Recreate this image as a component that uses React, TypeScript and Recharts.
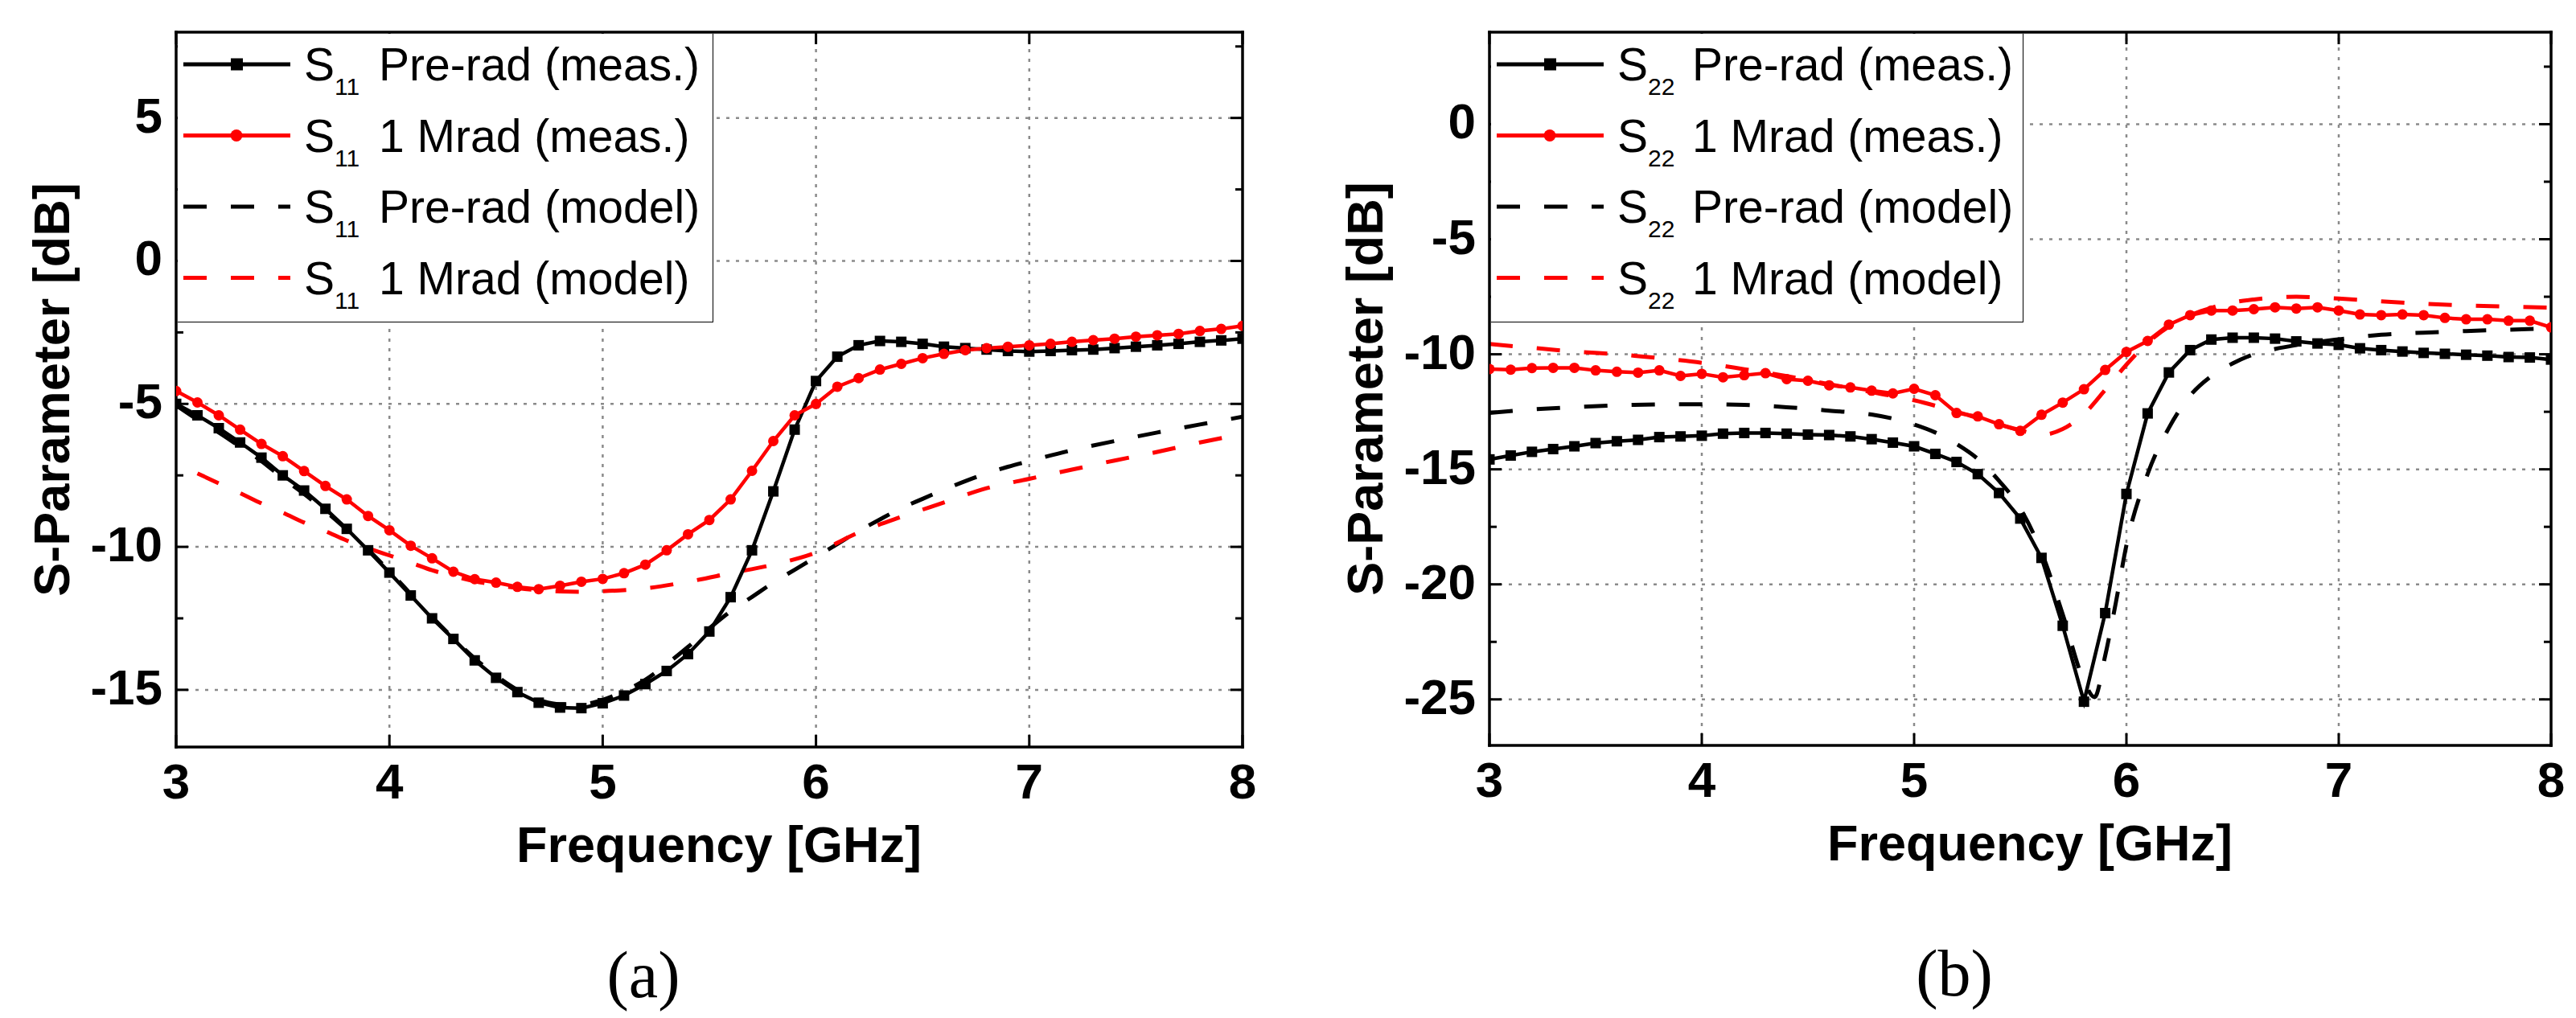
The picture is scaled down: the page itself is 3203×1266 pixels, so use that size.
import React from 'react';
import { LineChart, Line, XAxis, YAxis, ReferenceLine, Legend } from 'recharts';

// ---- data ----
const FREQ = [
  3.0, 3.1, 3.2, 3.3, 3.4, 3.5, 3.6, 3.7, 3.8, 3.9,
  4.0, 4.1, 4.2, 4.3, 4.4, 4.5, 4.6, 4.7, 4.8, 4.9,
  5.0, 5.1, 5.2, 5.3, 5.4, 5.5, 5.6, 5.7, 5.8, 5.9,
  6.0, 6.1, 6.2, 6.3, 6.4, 6.5, 6.6, 6.7, 6.8, 6.9,
  7.0, 7.1, 7.2, 7.3, 7.4, 7.5, 7.6, 7.7, 7.8, 7.9, 8.0,
];

// (a) S11
const S11_PRE_MEAS = [
  -5.0, -5.4, -5.85, -6.35, -6.88, -7.5, -8.03, -8.67, -9.37, -10.12,
  -10.9, -11.7, -12.5, -13.22, -13.97, -14.58, -15.08, -15.45, -15.62, -15.64,
  -15.47, -15.2, -14.8, -14.34, -13.75, -12.96, -11.76, -10.12, -8.06, -5.9,
  -4.2, -3.35, -2.95, -2.8, -2.83, -2.9, -3.0, -3.05, -3.1, -3.15,
  -3.17, -3.15, -3.12, -3.1, -3.05, -3.0, -2.95, -2.9, -2.83, -2.78, -2.72,
];
const S11_RAD_MEAS = [
  -4.55, -4.95, -5.4, -5.9, -6.4, -6.83, -7.35, -7.87, -8.34, -8.92,
  -9.42, -9.96, -10.4, -10.87, -11.13, -11.25, -11.4, -11.48, -11.36, -11.22,
  -11.12, -10.92, -10.62, -10.12, -9.56, -9.06, -8.34, -7.34, -6.3, -5.4,
  -5.0, -4.4, -4.1, -3.8, -3.6, -3.4, -3.25, -3.12, -3.05, -3.0,
  -2.95, -2.9, -2.83, -2.77, -2.72, -2.65, -2.6, -2.55, -2.45, -2.38, -2.27,
];
const S11_PRE_MODEL_F = [
  3.0, 3.1, 3.2, 3.3, 3.4, 3.5, 3.6, 3.7, 3.8, 3.9,
  4.0, 4.1, 4.2, 4.3, 4.4, 4.5, 4.6, 4.7, 4.8, 4.9,
  5.0, 5.1, 5.2, 5.3, 5.4, 5.5, 5.6, 5.7, 5.8, 5.9,
  6.0, 6.1, 6.2, 6.3, 6.4, 6.5, 6.6, 6.7, 6.8, 6.9,
  7.0, 7.2, 7.4, 7.6, 7.8, 8.0,
];
const S11_PRE_MODEL = [
  -5.05, -5.55, -6.0, -6.5, -7.0, -7.6, -8.15, -8.75, -9.4, -10.1,
  -10.85, -11.65, -12.45, -13.2, -13.9, -14.5, -15.0, -15.35, -15.5, -15.5,
  -15.35, -15.05, -14.65, -14.1, -13.5, -12.85, -12.25, -11.75, -11.25, -10.8,
  -10.35, -9.9, -9.45, -9.04, -8.65, -8.32, -8.0, -7.7, -7.43, -7.2,
  -7.0, -6.62, -6.3, -6.0, -5.72, -5.45,
];
const S11_RAD_MODEL_F = [
  3.1, 3.2, 3.3, 3.4, 3.5, 3.6, 3.7, 3.8, 3.9, 4.0,
  4.1, 4.2, 4.3, 4.4, 4.5, 4.6, 4.7, 4.8, 4.9, 5.0,
  5.2, 5.4, 5.6, 5.8, 6.0, 6.2, 6.4, 6.6, 6.8, 7.0,
  7.2, 7.4, 7.6, 7.8, 8.0,
];
const S11_RAD_MODEL = [
  -7.43, -7.78, -8.12, -8.48, -8.8, -9.15, -9.45, -9.78, -10.05, -10.3,
  -10.55, -10.82, -11.02, -11.2, -11.33, -11.44, -11.52, -11.56, -11.57, -11.55,
  -11.45, -11.22, -10.92, -10.62, -10.2, -9.5, -8.95, -8.45, -7.95, -7.62,
  -7.3, -6.98, -6.68, -6.35, -6.05,
];

// (b) S22
const S22_PRE_MEAS = [
  -14.57, -14.4, -14.24, -14.12, -14.0, -13.86, -13.78, -13.72, -13.6, -13.57,
  -13.54, -13.45, -13.42, -13.42, -13.45, -13.49, -13.51, -13.57, -13.69, -13.84,
  -14.0, -14.33, -14.68, -15.21, -16.03, -17.14, -18.85, -21.8, -25.1, -21.25,
  -16.07, -12.57, -10.79, -9.82, -9.36, -9.28, -9.28, -9.32, -9.44, -9.53,
  -9.59, -9.74, -9.82, -9.88, -9.94, -9.98, -10.02, -10.06, -10.12, -10.14, -10.23,
];
const S22_RAD_MEAS = [
  -10.64, -10.67, -10.6, -10.59, -10.59, -10.7, -10.76, -10.8, -10.7, -10.94,
  -10.85, -11.0, -10.91, -10.82, -11.08, -11.15, -11.35, -11.44, -11.58, -11.7,
  -11.5, -11.78, -12.55, -12.7, -13.04, -13.33, -12.63, -12.1, -11.52, -10.68,
  -9.9, -9.42, -8.71, -8.3, -8.1, -8.1, -8.04, -7.96, -8.01, -7.96,
  -8.1, -8.27, -8.3, -8.27, -8.3, -8.42, -8.48, -8.48, -8.54, -8.54, -8.83,
];
const S22_PRE_MODEL_F = [
  3.0, 3.2, 3.4, 3.6, 3.8, 4.0, 4.2, 4.4, 4.6, 4.8,
  5.0, 5.1, 5.2, 5.3, 5.4, 5.5, 5.6, 5.7, 5.8, 5.85,
  5.9, 5.95, 6.0, 6.1, 6.2, 6.3, 6.4, 6.5, 6.6, 6.7,
  6.8, 7.0, 7.2, 7.4, 7.6, 7.8, 8.0,
];
const S22_PRE_MODEL = [
  -12.55, -12.4, -12.3, -12.22, -12.18, -12.17, -12.2, -12.3, -12.45, -12.62,
  -13.05, -13.4, -13.9, -14.55, -15.5, -16.7, -18.6, -21.3, -24.2, -24.9,
  -23.1, -20.8, -18.3, -15.2, -13.2, -11.8, -10.95, -10.4, -10.0, -9.77,
  -9.6, -9.35, -9.15, -9.06, -8.99, -8.93, -8.87,
];
const S22_RAD_MODEL_F = [
  3.0, 3.2, 3.4, 3.6, 3.8, 4.0, 4.2, 4.4, 4.6, 4.8,
  5.0, 5.2, 5.4, 5.5, 5.6, 5.7, 5.8, 5.9, 6.0, 6.1,
  6.2, 6.3, 6.4, 6.5, 6.6, 6.8, 7.0, 7.2, 7.4, 7.6,
  7.8, 8.0,
];
const S22_RAD_MODEL = [
  -9.55, -9.72, -9.88, -10.0, -10.17, -10.37, -10.65, -10.95, -11.3, -11.65,
  -12.0, -12.5, -13.05, -13.3, -13.5, -13.25, -12.6, -11.55, -10.45, -9.5,
  -8.8, -8.3, -7.98, -7.75, -7.62, -7.5, -7.58, -7.7, -7.8, -7.88,
  -7.93, -7.97,
];

const X_TICKS = [3, 4, 5, 6, 7, 8];
const X_GRID = [4, 5, 6, 7];
const A_Y_MAJOR = [-15, -10, -5, 0, 5];
const A_Y_MINOR = [-12.5, -7.5, -2.5, 2.5, 7.5];
const B_Y_MAJOR = [-25, -20, -15, -10, -5, 0];
const B_Y_MINOR = [-22.5, -17.5, -12.5, -7.5, -2.5, 2.5];

const SERIES_TEXT = ['Pre-rad (meas.)', '1 Mrad (meas.)', 'Pre-rad (model)', '1 Mrad (model)'];

// ---- styling ----
const SANS = '"Liberation Sans", Arial, sans-serif';
const SERIF = '"Liberation Serif", "Times New Roman", serif';
const RED = '#ff0000';
const GRID = '#8a8a8a';
const MAJOR_LEN = 15;
const MINOR_LEN = 9;
const H = 1266;
const YW = 150;
const XH = 150;
const DASH = '29 30';

const zip = (f: number[], v: number[]) => f.map((x, i) => ({ f: x, v: v[i] }));

const squareDot = (p: any) => (
  <rect key={`sq-${p.index}`} x={p.cx - 6.5} y={p.cy - 6.5} width={13} height={13} fill="#000" />
);
const circleDot = (p: any) => (
  <circle key={`ci-${p.index}`} cx={p.cx} cy={p.cy} r={6.5} fill={RED} />
);

const isMajor = (v: number) => Math.abs(v % 5) < 1e-9;

const BottomTick = (p: any) => {
  const { x, y, payload } = p;
  return (
    <g>
      <line x1={x} y1={y} x2={x} y2={y - MAJOR_LEN} stroke="#000" strokeWidth={3} />
      <text x={x} y={y + 64} textAnchor="middle" fontFamily={SANS} fontWeight="bold" fontSize={62} fill="#000">
        {payload.value}
      </text>
    </g>
  );
};

const TopTick = (p: any) => {
  const { x, y } = p;
  return <line x1={x} y1={y} x2={x} y2={y + MAJOR_LEN} stroke="#000" strokeWidth={3} />;
};

const LeftTick = (p: any) => {
  const { x, y, payload } = p;
  const major = isMajor(payload.value);
  return (
    <g>
      <line x1={x} y1={y} x2={x + (major ? MAJOR_LEN : MINOR_LEN)} y2={y} stroke="#000" strokeWidth={3} />
      {major && (
        <text x={x - 17} y={y + 18} textAnchor="end" fontFamily={SANS} fontWeight="bold" fontSize={62} fill="#000">
          {payload.value}
        </text>
      )}
    </g>
  );
};

const RightTick = (p: any) => {
  const { x, y, payload } = p;
  const len = isMajor(payload.value) ? MAJOR_LEN : MINOR_LEN;
  return <line x1={x} y1={y} x2={x - len} y2={y} stroke="#000" strokeWidth={3} />;
};

const LegendBox = ({ width, sub }: { width: number; sub: string }) => {
  const rows = [
    { color: '#000', dash: undefined, marker: 'square' },
    { color: RED, dash: undefined, marker: 'circle' },
    { color: '#000', dash: DASH, marker: null },
    { color: RED, dash: DASH, marker: null },
  ];
  return (
    <div
      style={{
        width,
        height: 359,
        background: '#fff',
        borderRight: '1.5px solid #000',
        borderBottom: '1.5px solid #000',
        boxSizing: 'border-box',
      }}
    >
      <svg width={width} height={359} style={{ display: 'block' }}>
        {rows.map((r, i) => {
          const cy = 38 + i * 88.5;
          return (
            <g key={i}>
              <line x1={7} y1={cy} x2={140} y2={cy} stroke={r.color} strokeWidth={5} strokeDasharray={r.dash} />
              {r.marker === 'square' && <rect x={66} y={cy - 7.5} width={15} height={15} fill="#000" />}
              {r.marker === 'circle' && <circle cx={73} cy={cy} r={7.5} fill={RED} />}
              <text x={157} y={cy + 20} fontFamily={SANS} fontSize={57} fill="#000">S</text>
              <text x={195} y={cy + 38} fontFamily={SANS} fontSize={30} fill="#000">{sub}</text>
              <text x={250} y={cy + 20} fontFamily={SANS} fontSize={57} fill="#000">{SERIES_TEXT[i]}</text>
            </g>
          );
        })}
      </svg>
    </div>
  );
};

interface PanelProps {
  width: number;
  margin: { top: number; right: number; bottom: number; left: number };
  domainY: [number, number];
  yMajor: number[];
  yMinor: number[];
  preMeas: { f: number; v: number }[];
  radMeas: { f: number; v: number }[];
  preModel: { f: number; v: number }[];
  radModel: { f: number; v: number }[];
  sub: string;
  caption: string;
  legendLeft: number;
  legendWidth: number;
}

function Panel(p: PanelProps) {
  const yTicks = [...p.yMajor, ...p.yMinor].sort((a, b) => a - b);
  const yLabel = (props: any) => {
    const vb = props.viewBox;
    const cx = vb.x + vb.width - 155;
    const cy = vb.y + vb.height / 2;
    return (
      <text
        x={cx}
        y={cy}
        transform={`rotate(-90 ${cx} ${cy})`}
        textAnchor="middle"
        dominantBaseline="central"
        fontFamily={SANS}
        fontWeight="bold"
        fontSize={63}
        fill="#000"
      >
        S-Parameter [dB]
      </text>
    );
  };
  const xLabel = (props: any) => {
    const vb = props.viewBox;
    const cx = vb.x + vb.width / 2;
    return (
      <g>
        <text x={cx + 12} y={vb.y + 143} textAnchor="middle" fontFamily={SANS} fontWeight="bold" fontSize={63} fill="#000">
          Frequency [GHz]
        </text>
        <text x={cx - 82} y={vb.y + 311} textAnchor="middle" fontFamily={SERIF} fontSize={82} fill="#000">
          {p.caption}
        </text>
      </g>
    );
  };
  const axisLine = { stroke: '#000', strokeWidth: 3.5, strokeLinecap: 'square' as const };

  return (
    <LineChart width={p.width} height={H} margin={p.margin}>
      <XAxis
        xAxisId="b"
        type="number"
        dataKey="f"
        domain={[3, 8]}
        allowDataOverflow
        ticks={X_TICKS}
        interval={0}
        height={XH}
        tickSize={0}
        tickMargin={0}
        tickLine={false}
        axisLine={axisLine}
        tick={<BottomTick />}
        label={xLabel}
      />
      <XAxis
        xAxisId="t"
        orientation="top"
        type="number"
        dataKey="f"
        domain={[3, 8]}
        allowDataOverflow
        ticks={X_TICKS}
        interval={0}
        height={1}
        tickSize={0}
        tickMargin={0}
        tickLine={false}
        axisLine={axisLine}
        tick={<TopTick />}
      />
      <YAxis
        yAxisId="l"
        type="number"
        domain={p.domainY}
        allowDataOverflow
        ticks={yTicks}
        interval={0}
        width={YW}
        tickSize={0}
        tickMargin={0}
        tickLine={false}
        axisLine={axisLine}
        tick={<LeftTick />}
        label={yLabel}
      />
      <YAxis
        yAxisId="r"
        orientation="right"
        type="number"
        domain={p.domainY}
        allowDataOverflow
        ticks={yTicks}
        interval={0}
        width={1}
        tickSize={0}
        tickMargin={0}
        tickLine={false}
        axisLine={axisLine}
        tick={<RightTick />}
      />

      {X_GRID.map((x) => (
        <ReferenceLine key={`gx${x}`} xAxisId="b" yAxisId="l" x={x} stroke={GRID} strokeWidth={2.5} strokeDasharray="4 8" />
      ))}
      {p.yMajor.map((y) => (
        <ReferenceLine key={`gy${y}`} xAxisId="b" yAxisId="l" y={y} stroke={GRID} strokeWidth={2.5} strokeDasharray="4 8" />
      ))}

      <Line
        xAxisId="b"
        yAxisId="l"
        data={p.preModel}
        dataKey="v"
        type="monotone"
        stroke="#000"
        strokeWidth={5}
        strokeDasharray={DASH}
        dot={false}
        isAnimationActive={false}
      />
      <Line
        xAxisId="b"
        yAxisId="l"
        data={p.radModel}
        dataKey="v"
        type="monotone"
        stroke={RED}
        strokeWidth={5}
        strokeDasharray={DASH}
        dot={false}
        isAnimationActive={false}
      />
      <Line
        xAxisId="b"
        yAxisId="l"
        data={p.preMeas}
        dataKey="v"
        type="linear"
        stroke="#000"
        strokeWidth={4.5}
        dot={squareDot}
        activeDot={false}
        isAnimationActive={false}
      />
      <Line
        xAxisId="b"
        yAxisId="l"
        data={p.radMeas}
        dataKey="v"
        type="linear"
        stroke={RED}
        strokeWidth={4.5}
        dot={circleDot}
        activeDot={false}
        isAnimationActive={false}
      />

      <Legend
        layout="vertical"
        align="center"
        verticalAlign="middle"
        wrapperStyle={{ left: p.legendLeft, top: 42, width: p.legendWidth, height: 359 }}
        content={() => <LegendBox width={p.legendWidth} sub={p.sub} />}
      />
    </LineChart>
  );
}

export default function App() {
  return (
    <div style={{ position: 'absolute', left: 0, top: 0, width: 3203, height: H, background: '#fff', overflow: 'hidden' }}>
      <div style={{ position: 'absolute', left: 0, top: 0 }}>
        <Panel
          width={1600}
          margin={{ top: 39, right: 54, bottom: 187, left: 69 }}
          domainY={[-17, 8]}
          yMajor={A_Y_MAJOR}
          yMinor={A_Y_MINOR}
          preMeas={zip(FREQ, S11_PRE_MEAS)}
          radMeas={zip(FREQ, S11_RAD_MEAS)}
          preModel={zip(S11_PRE_MODEL_F, S11_PRE_MODEL)}
          radModel={zip(S11_RAD_MODEL_F, S11_RAD_MODEL)}
          sub="11"
          caption="(a)"
          legendLeft={221}
          legendWidth={666}
        />
      </div>
      <div style={{ position: 'absolute', left: 1600, top: 0 }}>
        <Panel
          width={1603}
          margin={{ top: 39, right: 30, bottom: 189, left: 102 }}
          domainY={[-27, 4]}
          yMajor={B_Y_MAJOR}
          yMinor={B_Y_MINOR}
          preMeas={zip(FREQ, S22_PRE_MEAS)}
          radMeas={zip(FREQ, S22_RAD_MEAS)}
          preModel={zip(S22_PRE_MODEL_F, S22_PRE_MODEL)}
          radModel={zip(S22_RAD_MODEL_F, S22_RAD_MODEL)}
          sub="22"
          caption="(b)"
          legendLeft={254}
          legendWidth={662}
        />
      </div>
    </div>
  );
}
